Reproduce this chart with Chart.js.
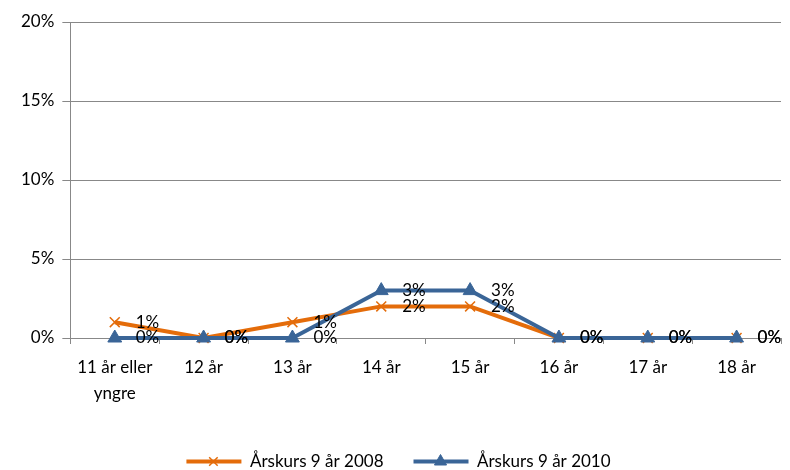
<!DOCTYPE html>
<html>
<head>
<meta charset="utf-8">
<script src="https://cdn.jsdelivr.net/npm/chart.js@4"></script>
<style>
  html, body { margin: 0; padding: 0; background: #fff; }
  #wrap { width: 790px; height: 470px; }
</style>
</head>
<body>
<div id="wrap"><canvas id="lineChart" width="790" height="470"></canvas></div>
<script>
const categories = [['11 år eller', 'yngre'], '12 år', '13 år', '14 år', '15 år', '16 år', '17 år', '18 år'];
const values2008 = [1, 0, 1, 2, 2, 0, 0, 0];
const values2010 = [0, 0, 0, 3, 3, 0, 0, 0];
const yTicks = [0, 5, 10, 15, 20];

const orange = '#E46C0A';
const blue = '#3A6597';
const font = 'Lato, "Open Sans", sans-serif';
const fontSize = 17;

// value labels to the right of each point
const pointLabels = {
    id: 'pointLabels',
    afterDatasetsDraw(chart) {
        const ctx = chart.ctx;
        ctx.save();
        ctx.font = fontSize + 'px ' + font;
        ctx.fillStyle = '#000';
        ctx.textBaseline = 'middle';
        chart.data.datasets.forEach((ds, i) => {
            chart.getDatasetMeta(i).data.forEach((pt, j) => {
                ctx.fillText(ds.data[j] + '%', pt.x + 21, pt.y);
            });
        });
        ctx.restore();
    }
};

// legend markers drawn over the line swatch
const legendMarkers = {
    id: 'legendMarkers',
    afterDraw(chart) {
        const lg = chart.legend;
        if (!lg || !lg.legendHitBoxes) return;
        const c = chart.ctx;
        lg.legendHitBoxes.forEach((box, i) => {
            const item = lg.legendItems[i];
            const ds = chart.data.datasets[item.datasetIndex];
            c.save();
            c.fillStyle = ds.pointBackgroundColor;
            c.strokeStyle = ds.pointBorderColor;
            c.lineWidth = ds.pointBorderWidth;
            Chart.helpers.drawPoint(c, { pointStyle: ds.pointStyle, radius: ds.pointRadius - 1, borderWidth: ds.pointBorderWidth },
                box.left + 27, box.top + box.height / 2);
            c.restore();
        });
    }
};

document.addEventListener('DOMContentLoaded', () => {
    const ctx = document.getElementById('lineChart').getContext('2d');

    new Chart(ctx, {
        type: 'line',
        data: {
            labels: categories,
            datasets: [{
                label: 'Årskurs 9 år 2008',
                data: values2008,
                borderColor: orange,
                backgroundColor: orange,
                borderWidth: 4,
                pointStyle: 'crossRot',
                pointRadius: 7,
                pointBorderWidth: 1.5,
                pointBorderColor: orange,
                pointBackgroundColor: orange,
                tension: 0,
                clip: false,
                order: 1
            }, {
                label: 'Årskurs 9 år 2010',
                data: values2010,
                borderColor: blue,
                backgroundColor: blue,
                borderWidth: 4,
                pointStyle: 'triangle',
                pointRadius: 8,
                pointBorderWidth: 1,
                pointBorderColor: blue,
                pointBackgroundColor: blue,
                tension: 0,
                clip: false,
                order: 0
            }]
        },
        options: {
            responsive: false,
            animation: false,
            layout: { padding: { left: 13, right: 6, top: 22, bottom: -10 } },
            plugins: {
                tooltip: { enabled: false },
                legend: {
                    position: 'bottom',
                    sort: (a, b) => a.datasetIndex - b.datasetIndex,
                    labels: {
                        font: { family: font, size: fontSize },
                        color: '#000',
                        boxWidth: 55,
                        boxHeight: 4,
                        padding: 30,
                        generateLabels(chart) {
                            return chart.data.datasets.map((ds, i) => ({
                                text: ds.label,
                                fillStyle: ds.borderColor,
                                strokeStyle: ds.borderColor,
                                lineWidth: 0,
                                datasetIndex: i
                            }));
                        }
                    }
                }
            },
            scales: {
                x: {
                    offset: true,
                    afterFit(axis) { axis.height += 6; },
                    grid: { offset: true, drawOnChartArea: false, color: '#888', tickLength: 6 },
                    border: { color: '#888' },
                    ticks: { font: { family: font, size: fontSize, lineHeight: 1.5 }, color: '#000', padding: 11, maxRotation: 0, autoSkip: false }
                },
                y: {
                    min: 0,
                    max: 20,
                    afterBuildTicks(axis) { axis.ticks = yTicks.map(v => ({ value: v })); },
                    grid: { color: '#888', tickLength: 8 },
                    border: { color: '#888' },
                    ticks: { font: { family: font, size: fontSize }, color: '#000', padding: 8, callback: v => v + '%' }
                }
            }
        },
        plugins: [pointLabels, legendMarkers]
    });
});
</script>
</body>
</html>
